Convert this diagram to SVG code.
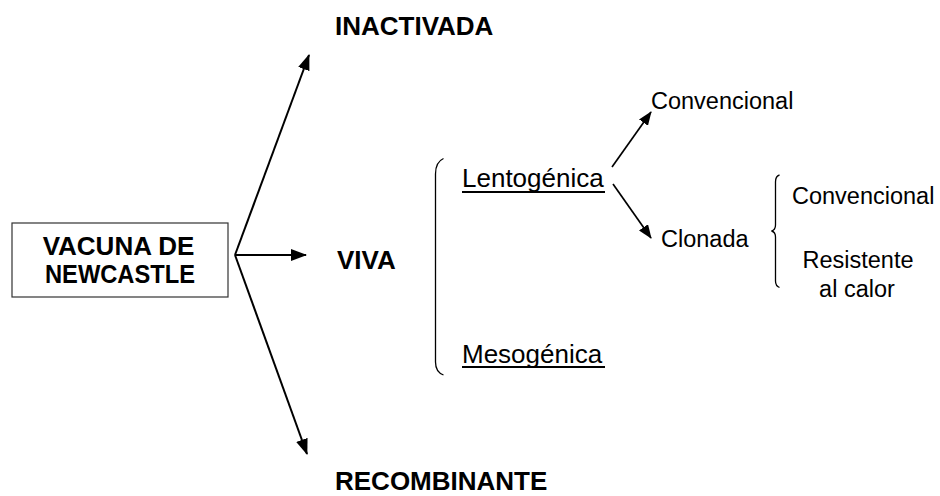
<svg xmlns="http://www.w3.org/2000/svg" width="940" height="496" viewBox="0 0 940 496">
  <style>
    .b { font-family: "Liberation Sans", Arial, sans-serif; font-weight: bold; font-size: 26px; fill: #000; }
    .r { font-family: "Liberation Sans", Arial, sans-serif; font-size: 23.5px; fill: #000; }
    .u { font-family: "Liberation Sans", Arial, sans-serif; font-size: 26px; fill: #000; }
    .main { stroke: #000; stroke-width: 2; fill: none; }
    .sub { stroke: #000; stroke-width: 1.7; fill: none; }
    .brace { stroke: #000; stroke-width: 1.3; fill: none; }
    .ul { stroke: #000; stroke-width: 1.8; }
  </style>
  <defs>
    <marker id="ah" markerUnits="userSpaceOnUse" markerWidth="16" markerHeight="12" viewBox="0 0 16 12" refX="15" refY="6" orient="auto">
      <path d="M0,0 L16,6 L0,12 z" fill="#000"/>
    </marker>
    <marker id="ahs" markerUnits="userSpaceOnUse" markerWidth="14" markerHeight="11" viewBox="0 0 14 11" refX="13" refY="5.5" orient="auto">
      <path d="M0,0 L14,5.5 L0,11 z" fill="#000"/>
    </marker>
  </defs>

  <g id="root">
    <rect x="12" y="223" width="216" height="74" fill="#fff" stroke="#333" stroke-width="1.2"/>
    <text class="b" x="118.5" y="255" text-anchor="middle">VACUNA DE</text>
    <text class="b" x="120" y="283" text-anchor="middle" textLength="150" lengthAdjust="spacingAndGlyphs">NEWCASTLE</text>
  </g>

  <g id="inactivada">
    <text class="b" x="335" y="35">INACTIVADA</text>
  </g>
  <g id="viva">
    <text class="b" x="337" y="269">VIVA</text>
  </g>
  <g id="recombinante">
    <text class="b" x="335" y="490">RECOMBINANTE</text>
  </g>

  <g id="lentogenica">
    <text class="u" x="462" y="187">Lentogénica</text>
    <line class="ul" x1="462" y1="192" x2="605" y2="192"/>
  </g>
  <g id="mesogenica">
    <text class="u" x="462" y="362.5">Mesogénica</text>
    <line class="ul" x1="462" y1="367" x2="605" y2="367"/>
  </g>
  <g id="convencional1">
    <text class="r" x="651" y="108.5">Convencional</text>
  </g>
  <g id="clonada">
    <text class="r" x="661" y="246.5">Clonada</text>
  </g>
  <g id="convencional2">
    <text class="r" x="792" y="204">Convencional</text>
  </g>
  <g id="resistente">
    <text class="r" x="858" y="268" text-anchor="middle">Resistente</text>
    <text class="r" x="857" y="297" text-anchor="middle">al calor</text>
  </g>

  <g id="braces">
    <path class="brace" d="M443.5,158.5 Q435.5,162 435.5,174 L435.5,362 Q435.5,372 443.5,375"/>
    <path class="brace" d="M779.5,175 Q775.5,176 775.5,182 L775.5,225 Q775.5,230 771.5,231 Q775.5,232 775.5,237 L775.5,281 Q775.5,286 779.5,287.5"/>
  </g>

  <g id="connectors">
    <line class="main" x1="235" y1="255" x2="309" y2="55" marker-end="url(#ah)"/>
    <line class="main" x1="235" y1="255" x2="306" y2="255" marker-end="url(#ah)"/>
    <line class="main" x1="235" y1="255" x2="307" y2="454" marker-end="url(#ah)"/>
    <line class="sub" x1="612" y1="167" x2="651" y2="112" marker-end="url(#ahs)"/>
    <line class="sub" x1="613" y1="184" x2="651" y2="238" marker-end="url(#ahs)"/>
  </g>
</svg>
